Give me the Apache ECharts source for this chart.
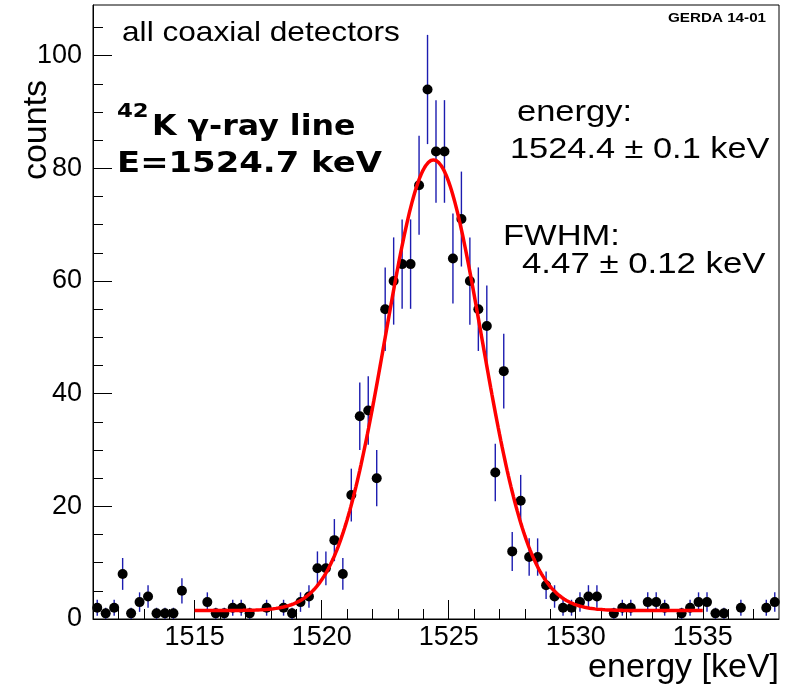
<!DOCTYPE html>
<html>
<head>
<meta charset="utf-8">
<script src="https://cdn.jsdelivr.net/npm/echarts@6/dist/echarts.min.js"></script>
<style>
  html, body { margin: 0; padding: 0; background: #fff; }
  #chart { width: 792px; height: 688px; }
</style>
</head>
<body>
<div id="chart"></div>
<script>
// Histogram binning (keV): 81 bins of 1/3 keV starting at 1511 keV
const binStart = 1511;
const binWidth = 1 / 3;

// Counts per bin, all coaxial detectors, around the 42K line
const counts = [
  2, 1, 2, 8, 1, 3, 4, 1, 1, 1, 5, 0, 0, 3, 1, 1, 2, 2, 1, 0,
  2, 0, 2, 1, 3, 4, 9, 9, 14, 8, 22, 36, 37, 25, 55, 60, 63, 63, 77, 94,
  83, 83, 64, 71, 60, 55, 52, 26, 44, 12, 21, 11, 11, 6, 4, 2, 2, 3, 4, 4,
  0, 1, 2, 2, 0, 3, 3, 2, 0, 1, 2, 3, 3, 1, 1, 0, 2, 0, 0, 2, 3
];

// Gaussian + flat background fit result
const fitMean = 1524.4;       // keV
const fitFwhm = 4.47;         // keV
const fitAmplitude = 80;      // counts / bin
const fitBackground = 1.5;    // counts / bin
const fitRange = [1515, 1535];

// Axis ranges and tick values
const xRange = [1511, 1538];
const yRange = [0, 109];
const xMajorTicks = [1515, 1520, 1525, 1530, 1535];
const xMinorTicks = [1512, 1513, 1514, 1516, 1517, 1518, 1519, 1521, 1522, 1523, 1524,
                     1526, 1527, 1528, 1529, 1531, 1532, 1533, 1534, 1536, 1537];
const yMajorTicks = [0, 20, 40, 60, 80, 100];
const yMinorTicks = [5, 10, 15, 25, 30, 35, 45, 50, 55, 65, 70, 75, 85, 90, 95, 105];

// ---- derived series ----
const points = [];
const errorBars = [];
counts.forEach(function (c, i) {
  if (c <= 0) return;           // empty bins are not drawn
  const e = binStart + (i + 0.5) * binWidth;
  const err = Math.sqrt(c);
  points.push([e, c]);
  errorBars.push([e, c - err, c + err]);
});

const sigma = fitFwhm / (2 * Math.sqrt(2 * Math.log(2)));
const fitCurve = [];
const nSteps = 400;
for (let k = 0; k <= nSteps; k++) {
  const e = fitRange[0] + (fitRange[1] - fitRange[0]) * k / nSteps;
  const d = (e - fitMean) / sigma;
  fitCurve.push([e, fitBackground + fitAmplitude * Math.exp(-0.5 * d * d)]);
}

const chart = echarts.init(document.getElementById('chart'), null, { renderer: 'canvas' });

const sans = "'Liberation Sans', Arial, Helvetica, sans-serif";
const boldSans = "'DejaVu Sans', sans-serif";

function label(text, x, y, size, opts) {
  opts = opts || {};
  return {
    type: 'text',
    x: x, y: y,
    scaleX: opts.scaleX || 1,
    rotation: opts.rotation || 0,
    z: 100,
    style: {
      text: text,
      fill: '#000',
      font: (opts.weight || 'normal') + ' ' + size + 'px ' + (opts.family || sans),
      align: opts.align || 'left',
      verticalAlign: 'middle'
    }
  };
}

const plainNumber = function (v) { return String(v); };

const axisBase = {
  type: 'value',
  splitLine: { show: false },
  axisLine: { onZero: false }
};

chart.setOption({
  animation: false,
  backgroundColor: '#fff',
  grid: {
    left: 93, top: 5, width: 686, height: 614,
    show: true, borderColor: '#000', borderWidth: 1,
    containLabel: false
  },
  xAxis: [
    Object.assign({}, axisBase, {
      min: xRange[0], max: xRange[1], position: 'bottom',
      axisLine: { show: true, onZero: false, lineStyle: { color: '#000', width: 1 } },
      axisTick: { show: true, inside: true, length: 19, customValues: xMajorTicks,
                  lineStyle: { color: '#000', width: 1 } },
      axisLabel: { show: true, customValues: xMajorTicks, margin: 5, color: '#000',
                   fontSize: 27, fontFamily: sans, formatter: plainNumber }
    }),
    Object.assign({}, axisBase, {
      min: xRange[0], max: xRange[1], position: 'bottom',
      axisLine: { show: false, onZero: false },
      axisTick: { show: true, inside: true, length: 10, customValues: xMinorTicks,
                  lineStyle: { color: '#000', width: 1 } },
      axisLabel: { show: false }
    })
  ],
  yAxis: [
    Object.assign({}, axisBase, {
      min: yRange[0], max: yRange[1], position: 'left',
      axisLine: { show: true, onZero: false, lineStyle: { color: '#000', width: 1 } },
      axisTick: { show: true, inside: true, length: 19, customValues: yMajorTicks,
                  lineStyle: { color: '#000', width: 1 } },
      axisLabel: { show: true, customValues: yMajorTicks, margin: 11, color: '#000',
                   fontSize: 27, fontFamily: sans, formatter: plainNumber }
    }),
    Object.assign({}, axisBase, {
      min: yRange[0], max: yRange[1], position: 'left',
      axisLine: { show: false, onZero: false },
      axisTick: { show: true, inside: true, length: 10, customValues: yMinorTicks,
                  lineStyle: { color: '#000', width: 1 } },
      axisLabel: { show: false }
    })
  ],
  series: [
    {
      name: 'errors',
      type: 'custom',
      xAxisIndex: 0, yAxisIndex: 0,
      z: 2,
      data: errorBars,
      renderItem: function (params, api) {
        const top = api.coord([api.value(0), api.value(2)]);
        const bot = api.coord([api.value(0), api.value(1)]);
        return {
          type: 'line',
          shape: { x1: top[0], y1: top[1], x2: bot[0], y2: bot[1] },
          style: { stroke: '#1c1cb0', lineWidth: 1.4 }
        };
      }
    },
    {
      name: 'counts',
      type: 'scatter',
      xAxisIndex: 0, yAxisIndex: 0,
      z: 3,
      symbol: 'circle',
      symbolSize: 10,
      itemStyle: { color: '#000', opacity: 1 },
      data: points
    },
    {
      name: 'fit',
      type: 'line',
      xAxisIndex: 0, yAxisIndex: 0,
      z: 4,
      showSymbol: false,
      smooth: false,
      lineStyle: { color: '#ff0000', width: 3.5 },
      data: fitCurve
    }
  ],
  graphic: [
    label('all coaxial detectors', 122, 33, 28, { scaleX: 1.13 }),
    label('GERDA 14-01', 668, 18, 13, { weight: 'bold', scaleX: 1.17 }),
    label('42', 117, 112, 19, { weight: 'bold', family: boldSans, scaleX: 1.2 }),
    label('K γ-ray line', 152, 128, 28, { weight: 'bold', family: boldSans, scaleX: 1.13 }),
    label('E=1524.7 keV', 117, 165, 28, { weight: 'bold', family: boldSans, scaleX: 1.21 }),
    label('energy:', 517, 113, 30, { scaleX: 1.15 }),
    label('1524.4 \u00b1 0.1 keV', 510, 150, 30, { scaleX: 1.145 }),
    label('FWHM:', 503, 237, 30, { scaleX: 1.15 }),
    label('4.47 \u00b1 0.12 keV', 522, 265, 30, { scaleX: 1.16 }),
    label('counts', 37, 130, 34, { rotation: Math.PI / 2, align: 'center' }),
    label('energy [keV]', 779, 668, 34, { align: 'right' })
  ]
});
</script>
</body>
</html>
